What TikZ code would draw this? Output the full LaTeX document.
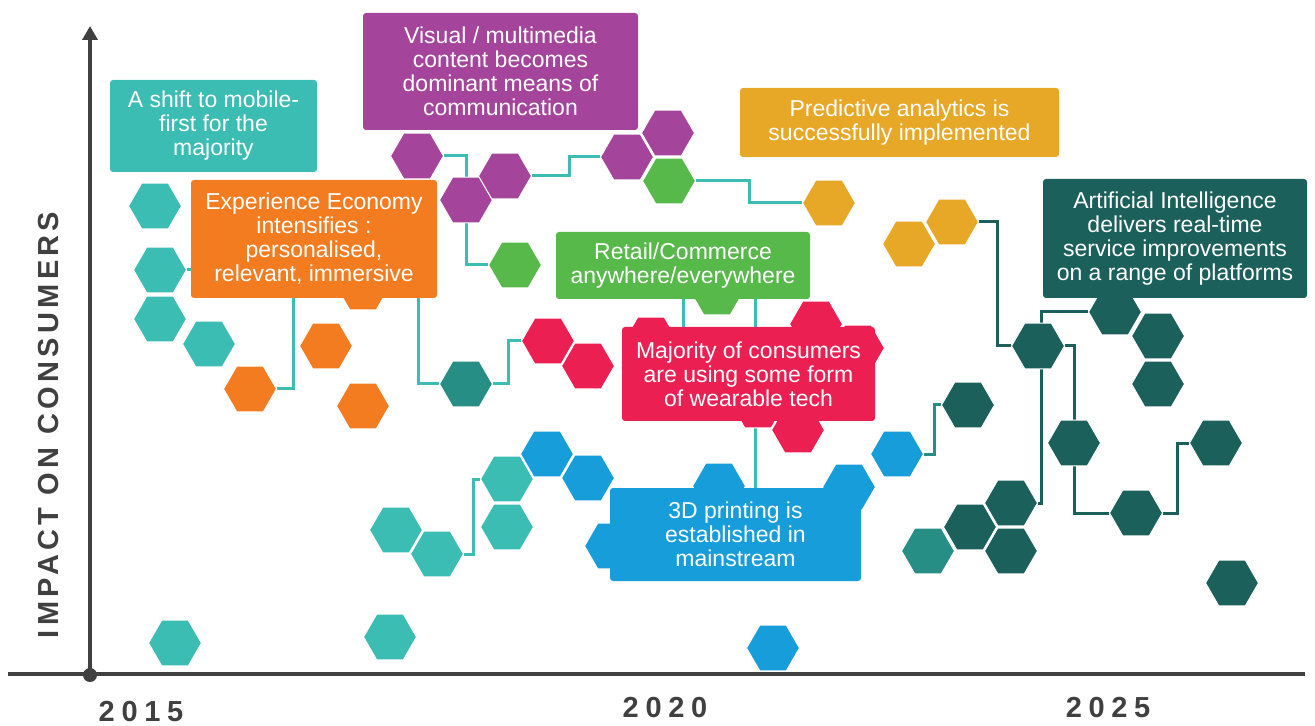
\documentclass[tikz,border=0pt]{standalone}
\usepackage{fontspec}
\setmainfont{Liberation Sans}
\usetikzlibrary{shapes.geometric, arrows.meta, backgrounds}

\definecolor{hexteal}{HTML}{3BBDB4}
\definecolor{hexpurple}{HTML}{A5449B}
\definecolor{hexorange}{HTML}{F37C21}
\definecolor{hexgold}{HTML}{E7A727}
\definecolor{hexgreen}{HTML}{58B94B}
\definecolor{hexred}{HTML}{EC1F52}
\definecolor{hexblue}{HTML}{179DDA}
\definecolor{hexdark}{HTML}{1C605B}
\definecolor{hexmid}{HTML}{278E85}
\definecolor{axisgray}{HTML}{404040}

\tikzset{
  hex/.style={regular polygon, regular polygon sides=6, minimum size=26.5pt,
              inner sep=0pt, fill=#1, draw=white, line width=0.5pt},
  card/.style={fill=#1, rounded corners=1.5pt, text=white, align=center,
               inner sep=0pt, font=\fontsize{11.5}{12}\selectfont},
  link/.style={draw=#1, line width=1.5pt},
  link/.default=hexteal,
  axisline/.style={draw=axisgray, line width=2.3pt},
  yearlabel/.style={text=axisgray,
                    font=\bfseries\fontsize{14.5}{17}\selectfont\addfontfeature{LetterSpace=23}},
}

\begin{document}
\begin{tikzpicture}[x=0.5pt, y=-0.5pt]
    \useasboundingbox (0,0) rectangle (1315,726);

    % axes
    \draw[axisline] (8,674) -- (1305,674);
    \node[circle, fill=axisgray, minimum size=7pt, inner sep=0pt] (origin) at (90,675) {};
    \draw[axisline, -{Triangle[length=7pt, width=7.5pt]}] (origin.center) -- (90,26);
    \node[rotate=90, text=axisgray,
          font=\bfseries\fontsize{14.5}{17}\selectfont\addfontfeature{LetterSpace=15}]
          (impact) at (49,425) {IMPACT ON CONSUMERS};
    \node[yearlabel] (y2015) at (141,712) {2015};
    \node[yearlabel] (y2020) at (665,708) {2020};
    \node[yearlabel] (y2025) at (1108,708) {2025};

    % hexagons
    \node[hex=hexteal] (teal1) at (155,206) {};
    \node[hex=hexteal] (teal2) at (160,270) {};
    \node[hex=hexteal] (teal3) at (160,319) {};
    \node[hex=hexteal] (teal4) at (209,344) {};
    \node[hex=hexteal] (teal5) at (175,643) {};
    \node[hex=hexteal] (teal6) at (390,637) {};
    \node[hex=hexteal] (teal7) at (396,530) {};
    \node[hex=hexteal] (teal8) at (437,554) {};
    \node[hex=hexteal] (teal9) at (507,479) {};
    \node[hex=hexteal] (teal10) at (507,527) {};

    \node[hex=hexorange] (orng1) at (250,389) {};
    \node[hex=hexorange] (orng2) at (326,346) {};
    \node[hex=hexorange] (orng3) at (363,406) {};
    \node[hex=hexorange] (orng4) at (363,287) {};

    \node[hex=hexpurple] (purp1) at (417,156) {};
    \node[hex=hexpurple] (purp2) at (466,200) {};
    \node[hex=hexpurple] (purp3) at (505,176) {};
    \node[hex=hexpurple] (purp4) at (627,157) {};
    \node[hex=hexpurple] (purp5) at (668,133) {};

    \node[hex=hexgreen] (grn1) at (515,265) {};
    \node[hex=hexgreen] (grn2) at (669,181) {};
    \node[hex=hexgreen] (grn3) at (717,292) {};

    \node[hex=hexgold] (gold1) at (829,203) {};
    \node[hex=hexgold] (gold2) at (909,244) {};
    \node[hex=hexgold] (gold3) at (952,222) {};

    \node[hex=hexred] (red1) at (548,341) {};
    \node[hex=hexred] (red2) at (588,366) {};
    \node[hex=hexred] (red3) at (651,340) {};
    \node[hex=hexred] (red4) at (816,324) {};
    \node[hex=hexred] (red5) at (858,348) {};
    \node[hex=hexred] (red6) at (798,430) {};
    \node[hex=hexred] (red7) at (758,405) {};

    \node[hex=hexblue] (blue1) at (547,454) {};
    \node[hex=hexblue] (blue2) at (588,478) {};
    \node[hex=hexblue] (blue3) at (897,454) {};
    \node[hex=hexblue] (blue4) at (849,487) {};
    \node[hex=hexblue] (blue5) at (719,486) {};
    \node[hex=hexblue] (blue6) at (611,546) {};
    \node[hex=hexblue] (blue7) at (773,648) {};

    \node[hex=hexmid] (mid1) at (466,384) {};
    \node[hex=hexmid] (mid2) at (928,551) {};

    \node[hex=hexdark] (dark1) at (1038,346) {};
    \node[hex=hexdark] (dark2) at (1115,312) {};
    \node[hex=hexdark] (dark3) at (1158,336) {};
    \node[hex=hexdark] (dark4) at (1158,384) {};
    \node[hex=hexdark] (dark5) at (1074,443) {};
    \node[hex=hexdark] (dark6) at (1136,513) {};
    \node[hex=hexdark] (dark7) at (1216,443) {};
    \node[hex=hexdark] (dark8) at (1011,503) {};
    \node[hex=hexdark] (dark9) at (968,405) {};
    \node[hex=hexdark] (dark10) at (970,527) {};
    \node[hex=hexdark] (dark11) at (1011,551) {};
    \node[hex=hexdark] (dark12) at (1232,583) {};

    % milestone cards
    \node[card=hexteal, minimum width=103.5pt, minimum height=46pt] (mobile) at (213.5,126)
        {A shift to mobile-\\first for the\\majority};
    \node[card=hexpurple, minimum width=137.5pt, minimum height=58.5pt] (visual) at (500.5,71.5)
        {Visual / multimedia\\content becomes\\dominant means of\\communication};
    \node[card=hexorange, minimum width=123pt, minimum height=59pt] (economy) at (314,239)
        {Experience Economy\\intensifies :\\personalised,\\relevant, immersive};
    \node[card=hexgold, minimum width=159.5pt, minimum height=34.5pt] (predict) at (899.5,122.5)
        {Predictive analytics is\\successfully implemented};
    \node[card=hexgreen, minimum width=127pt, minimum height=33.5pt] (retail) at (683,265.5)
        {Retail/Commerce\\anywhere/everywhere};
    \node[card=hexred, minimum width=126.5pt, minimum height=47pt] (wearable) at (748.5,374)
        {Majority of consumers\\are using some form\\of wearable tech};
    \node[card=hexblue, minimum width=125.5pt, minimum height=46.5pt] (printing) at (735.5,534.5)
        {3D printing is\\established in\\mainstream};
    \node[card=hexdark, minimum width=132pt, minimum height=59.5pt] (ai) at (1175,238.5)
        {Artificial Intelligence\\delivers real-time\\service improvements\\on a range of platforms};

    % connectors run behind the hexagons
    \coordinate (bend1) at ([xshift=8pt]orng1.east);
    \coordinate (bend2) at ([xshift=-10pt]mid1.west);
    \coordinate (drop) at ([xshift=36pt]retail.south);
    \begin{scope}[on background layer]
      \draw[link] (teal2.east) -- (teal2.east -| economy.west);
      \draw[link] (orng1.east) -- (bend1) -- (bend1 |- economy.south);
      \draw[link] (mid1.west) -- (bend2) -- (bend2 |- economy.south);
      \draw[link] (mid1.east) -- ++(15,0) |- (red1.west);
      \draw[link] (purp1.east) -| (purp2.center) |- (grn1.west);
      \draw[link] (purp3.east) -- ++(37,0) |- (purp4.west);
      \draw[link] (grn2.east) -- ++(53,0) |- (gold1.west);
      \draw[link] (teal8.east) -- ++(9,0) |- (teal9.west);
      \draw[link] (retail.south) -- (retail.south |- wearable.north);
      \draw[link] (drop) -- (drop |- printing.north);
      \draw[link=hexmid] (blue3.east) -- ++(10,0) |- (dark9.west);
      \draw[link=hexdark] (gold3.east) -- ++(18,0) |- (dark1.west);
      \draw[link=hexdark] (dark2.west) -- ++(-46,0) |- (dark8.east);
      \draw[link=hexdark] (dark1.east) -| (dark5.center) |- (dark6.west);
      \draw[link=hexdark] (dark6.east) -- ++(14,0) |- (dark7.west);
    \end{scope}
\end{tikzpicture}
\end{document}
